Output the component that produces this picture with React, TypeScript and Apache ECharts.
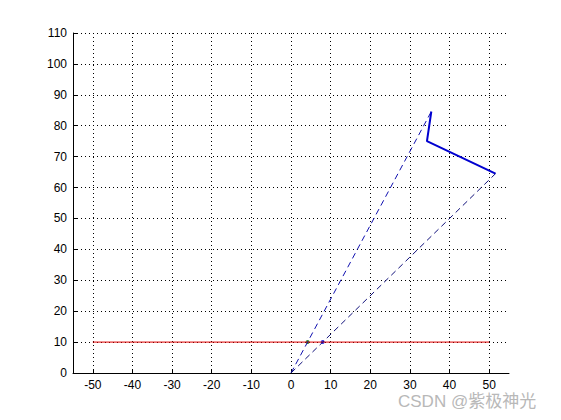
import React, { useEffect, useRef } from "react";
import * as echarts from "echarts";

const xTicks = [-50, -40, -30, -20, -10, 0, 10, 20, 30, 40, 50];
const yTicks = [0, 10, 20, 30, 40, 50, 60, 70, 80, 90, 100, 110];
const redLine = [[-50, 10], [50, 10]];
const bluePath = [[35.4, 84.6], [34.3, 75.0], [51.6, 64.5]];
const dashA = [[0, 0], [35.4, 84.6]];
const dashB = [[0, 0], [51.6, 64.5]];
const greenPt = [[4.2, 10]];
const bluePt = [[8.0, 10]];

export default function App() {
  const ref = useRef<HTMLDivElement>(null);
  useEffect(() => {
    document.body.style.margin = "0";
    const chart = echarts.init(ref.current!, null, { renderer: "svg" });
    const font = { color: "#000", fontSize: 12, fontFamily: "Liberation Sans, Arial, sans-serif" };
    chart.setOption({
      animation: false,
      backgroundColor: "#fff",
      grid: { left: 73, right: 52, top: 33, bottom: 47 },
      xAxis: {
        type: "value",
        min: -55,
        max: 55,
        axisLine: { show: true, onZero: false, lineStyle: { color: "#000", width: 1 } },
        axisTick: { show: true, inside: true, length: 4, customValues: xTicks, lineStyle: { color: "#000" } },
        axisLabel: { ...font, customValues: xTicks, margin: 6 },
        splitLine: { show: true, lineStyle: { color: "#000", type: [1, 3], width: 1 } },
      },
      yAxis: {
        type: "value",
        min: 0,
        max: 110,
        interval: 10,
        axisLine: { show: true, onZero: false, lineStyle: { color: "#000", width: 1 } },
        axisTick: { show: true, inside: true, length: 4, customValues: yTicks, lineStyle: { color: "#000" } },
        axisLabel: { ...font, customValues: yTicks, margin: 6 },
        splitLine: { show: true, lineStyle: { color: "#000", type: [1, 3], width: 1 } },
      },
      series: [
        { type: "line", data: redLine, symbol: "none", lineStyle: { color: "#e00000", width: 1 } },
        { type: "line", data: dashA, symbol: "none", lineStyle: { color: "#1010b0", width: 1, type: [6, 4] } },
        { type: "line", data: dashB, symbol: "none", lineStyle: { color: "#10107a", width: 1, type: [6, 4] } },
        { type: "line", data: bluePath, symbol: "none", lineStyle: { color: "#0000d0", width: 2 } },
        { type: "scatter", data: greenPt, symbolSize: 4, itemStyle: { color: "#007000" } },
        { type: "scatter", data: bluePt, symbolSize: 4, itemStyle: { color: "#0000e0" } },
      ],
      graphic: [
        {
          type: "text",
          left: 398,
          top: 393,
          style: { text: "CSDN @紫极神光", fill: "#b8b8b8", fontSize: 17, fontFamily: "Liberation Sans, Noto Sans CJK SC, sans-serif" },
        },
      ],
    });
    return () => chart.dispose();
  }, []);
  return <div ref={ref} style={{ position: "absolute", left: 0, top: 0, width: 561, height: 420 }} />;
}
